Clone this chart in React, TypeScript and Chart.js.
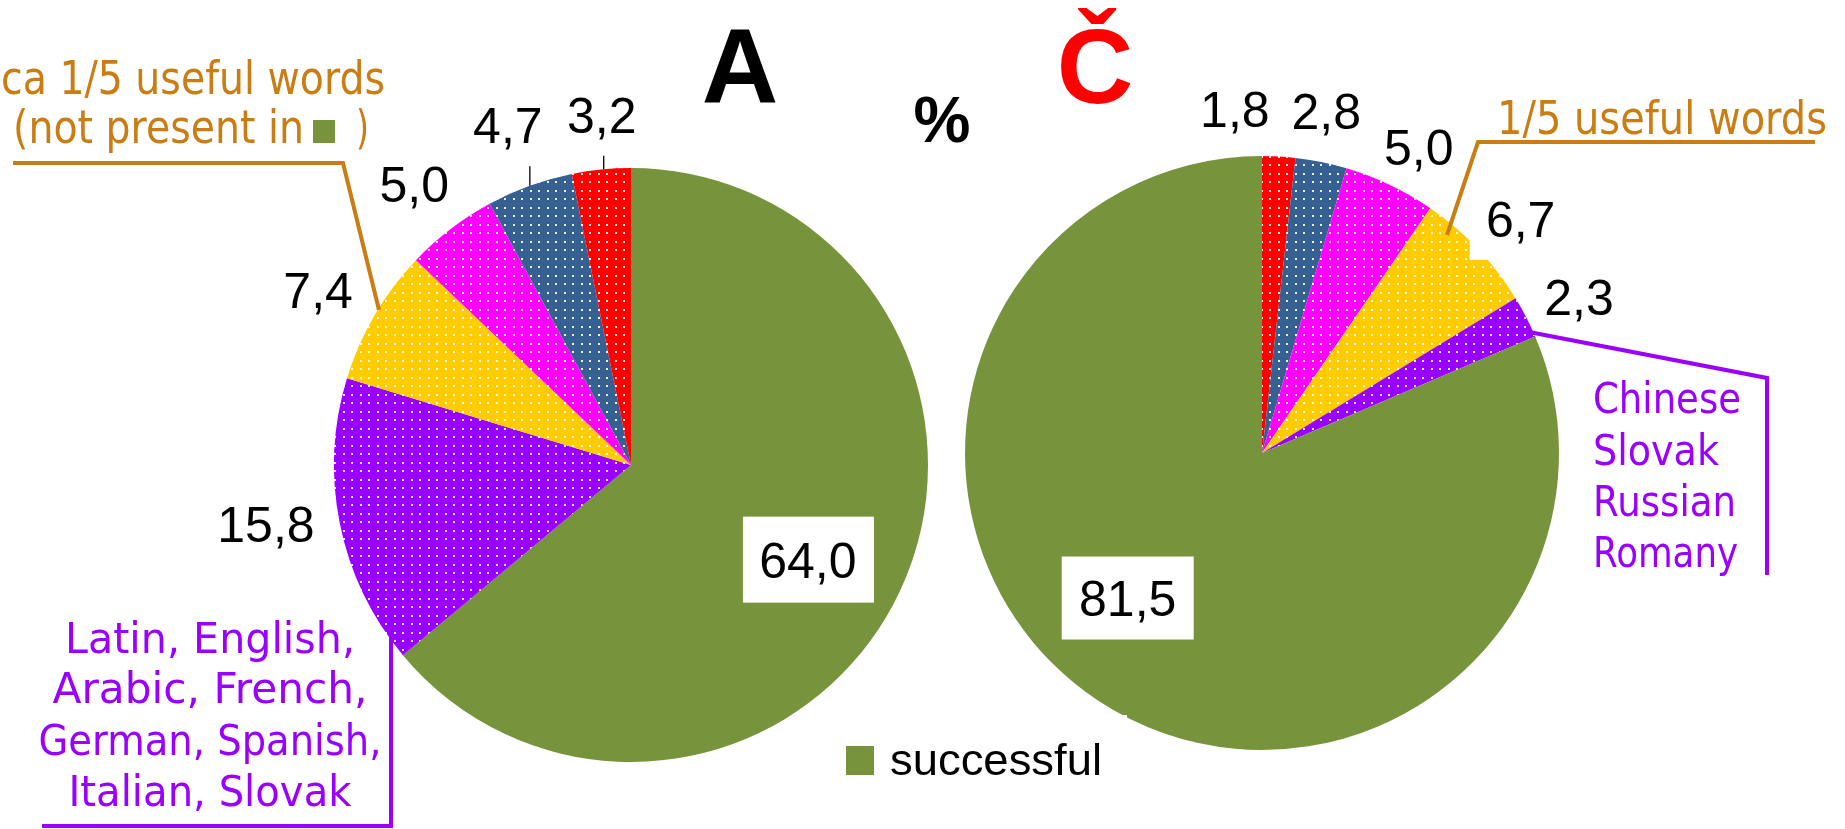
import React, { useEffect, useRef } from 'react';
import { Chart, registerables } from 'chart.js';

Chart.register(...registerables);

const W = 1845;
const H = 829;

// ---------- data ----------
const categoriesA = ['successful', 'other languages', 'useful words', 'group 4', 'group 5', 'group 6'];
const valuesA = [64.0, 15.8, 7.4, 5.0, 4.7, 3.2];
const categoriesC = ['group 6', 'group 5', 'group 4', 'useful words', 'other languages', 'successful'];
const valuesC = [1.8, 2.8, 5.0, 6.7, 2.3, 81.5];

const titleA = 'A';
const titleC = 'Č';
const unitLabel = '%';
const legendLabel = 'successful';
const noteLeftOrange = ['ca 1/5 useful words', '(not present in', ')'];
const noteRightOrange = '1/5 useful words';
const noteLeftPurple = ['Latin, English,', 'Arabic, French,', 'German, Spanish,', 'Italian, Slovak'];
const noteRightPurple = ['Chinese', 'Slovak', 'Russian', 'Romany'];

// ---------- styles ----------
const COLORS: Record<string, string> = {
  'successful': '#77933C',
  'other languages': '#9900FF',
  'useful words': '#FFCC00',
  'group 4': '#FF00FF',
  'group 5': '#376092',
  'group 6': '#FF0000',
};
const ORANGE = '#C97D12';
const PURPLE = '#9900FF';
const NUM_FONT = '50px "Liberation Sans", Arial, sans-serif';
const ORANGE_FONT = '46px "DejaVu Sans", sans-serif';
const PURPLE_FONT = '43px "DejaVu Sans", sans-serif';

function fmt(v: number) {
  return v.toFixed(1).replace('.', ',');
}

function fitText(ctx: CanvasRenderingContext2D, text: string, x: number, y: number, width: number, align: 'left' | 'center') {
  const m = ctx.measureText(text).width;
  const s = width / m;
  ctx.save();
  const x0 = align === 'center' ? x - width / 2 : x;
  ctx.translate(x0, y);
  ctx.scale(s, 1);
  ctx.textAlign = 'left';
  ctx.textBaseline = 'alphabetic';
  ctx.fillText(text, 0, 0);
  ctx.restore();
}

function makeFill(canvas: HTMLCanvasElement, cat: string): string | CanvasPattern {
  const color = COLORS[cat];
  if (cat === 'successful') return color;
  const t = document.createElement('canvas');
  t.width = 17;
  t.height = 17;
  const c = t.getContext('2d')!;
  c.fillStyle = color;
  c.fillRect(0, 0, 17, 17);
  c.fillStyle = 'rgba(255,255,255,0.92)';
  for (const [x, y] of [[3, 3], [11, 3], [3, 11], [11, 11]]) c.fillRect(x, y, 2, 2);
  const p = canvas.getContext('2d')!.createPattern(t, 'repeat');
  return p || color;
}

const sliceLabels = {
  id: 'sliceLabels',
  afterDatasetsDraw(chart: any, _args: any, opts: any) {
    const ctx: CanvasRenderingContext2D = chart.ctx;
    const meta = chart.getDatasetMeta(0);
    const data: number[] = chart.data.datasets[0].data;
    ctx.save();
    meta.data.forEach((arc: any, i: number) => {
      const p = arc.getProps(['x', 'y', 'startAngle', 'endAngle', 'outerRadius'], true);
      const mid = (p.startAngle + p.endAngle) / 2;
      const inside = i === opts.insideIndex;
      const rr = inside ? p.outerRadius * 0.68 : p.outerRadius + 55;
      const nud = opts.nudges[i] || [0, 0];
      const lx = p.x + Math.cos(mid) * rr + nud[0];
      const ly = p.y + Math.sin(mid) * rr + nud[1];
      const box = opts.boxes && opts.boxes[i];
      if (box) {
        ctx.fillStyle = '#FFFFFF';
        ctx.fillRect(lx + box[0], ly + box[1], box[2], box[3]);
      }
      ctx.font = NUM_FONT;
      ctx.fillStyle = '#000000';
      ctx.textAlign = 'center';
      ctx.textBaseline = 'alphabetic';
      ctx.fillText(fmt(data[i]), lx, ly + 18);
      const ld = opts.leaders && opts.leaders[i];
      if (ld !== undefined) {
        const x = lx + ld;
        const dx = x - p.x;
        const ey = p.y - Math.sqrt(Math.max(p.outerRadius * p.outerRadius - dx * dx, 0));
        ctx.strokeStyle = '#000000';
        ctx.lineWidth = 1.3;
        ctx.beginPath();
        ctx.moveTo(x, ly + 41);
        ctx.lineTo(x, ey);
        ctx.stroke();
      }
    });
    ctx.restore();
  },
};

const overlay = {
  id: 'overlay',
  afterDraw(chart: any) {
    const ctx: CanvasRenderingContext2D = chart.ctx;
    ctx.save();
    // titles
    ctx.textAlign = 'center';
    ctx.textBaseline = 'alphabetic';
    ctx.fillStyle = '#000000';
    ctx.font = 'bold 106px "Liberation Sans", Arial, sans-serif';
    ctx.fillText(titleA, 740, 103);
    ctx.fillStyle = '#FF0000';
    ctx.fillText(titleC, 1095, 103);
    ctx.fillStyle = '#000000';
    ctx.font = 'bold 64px "Liberation Sans", Arial, sans-serif';
    ctx.fillText(unitLabel, 942, 142);

    // orange notes
    ctx.font = ORANGE_FONT;
    ctx.fillStyle = ORANGE;
    fitText(ctx, noteLeftOrange[0], 1, 94, 384, 'left');
    fitText(ctx, noteLeftOrange[1], 13, 143, 291, 'left');
    fitText(ctx, noteLeftOrange[2], 356, 143, 13, 'left');
    ctx.fillStyle = COLORS['successful'];
    ctx.fillRect(313, 120, 22, 23);
    ctx.fillStyle = ORANGE;
    fitText(ctx, noteRightOrange, 1497, 134, 330, 'left');
    ctx.strokeStyle = ORANGE;
    ctx.lineWidth = 4;
    ctx.lineJoin = 'miter';
    ctx.beginPath();
    ctx.moveTo(13, 163);
    ctx.lineTo(343, 163);
    ctx.lineTo(379, 310);
    ctx.stroke();
    ctx.beginPath();
    ctx.moveTo(1815, 142);
    ctx.lineTo(1478, 142);
    ctx.lineTo(1447, 235);
    ctx.stroke();

    // purple notes
    ctx.font = PURPLE_FONT;
    ctx.fillStyle = PURPLE;
    const leftW = [290, 315, 343, 283];
    const leftY = [653, 703, 755, 806];
    noteLeftPurple.forEach((t, i) => fitText(ctx, t, 210, leftY[i], leftW[i], 'center'));
    const rightW = [148, 126, 143, 145];
    const rightY = [413, 465, 516, 567];
    noteRightPurple.forEach((t, i) => fitText(ctx, t, 1593, rightY[i], rightW[i], 'left'));
    ctx.strokeStyle = PURPLE;
    ctx.lineWidth = 4;
    ctx.beginPath();
    ctx.moveTo(391, 633);
    ctx.lineTo(391, 826);
    ctx.lineTo(42, 826);
    ctx.stroke();
    ctx.beginPath();
    ctx.moveTo(1529, 332);
    ctx.lineTo(1767, 378);
    ctx.lineTo(1767, 575);
    ctx.stroke();

    // legend
    ctx.fillStyle = '#FFFFFF';
    ctx.fillRect(830, 715, 297, 90);
    ctx.fillStyle = COLORS['successful'];
    ctx.fillRect(846, 746, 28, 29);
    ctx.fillStyle = '#000000';
    ctx.font = '44px "Liberation Sans", Arial, sans-serif';
    fitText(ctx, legendLabel, 890, 775, 212, 'left');
    ctx.restore();
  },
};

export default function App() {
  const refA = useRef<HTMLCanvasElement>(null);
  const refC = useRef<HTMLCanvasElement>(null);

  useEffect(() => {
    const ca = refA.current!;
    const cc = refC.current!;
    const chartA = new Chart(ca, {
      type: 'pie',
      data: {
        labels: categoriesA,
        datasets: [{
          data: valuesA,
          backgroundColor: categoriesA.map((c) => makeFill(ca, c)) as any,
          borderWidth: 0,
          hoverOffset: 0,
        }],
      },
      options: {
        responsive: false,
        animation: false,
        events: [],
        layout: { padding: { left: 334, right: 917, top: 168, bottom: 67 } },
        plugins: {
          legend: { display: false },
          tooltip: { enabled: false },
          sliceLabels: {
            insideIndex: 0,
            nudges: [[-6, 9], [-20, -11], [-9, 3], [-3, -1], [-3, -9], [6, 0]],
            boxes: { 0: [-65, -43, 131, 86] },
            leaders: { 4: 22, 5: 2 },
          },
        } as any,
      },
      plugins: [sliceLabels],
    });
    const chartC = new Chart(cc, {
      type: 'pie',
      data: {
        labels: categoriesC,
        datasets: [{
          data: valuesC,
          backgroundColor: categoriesC.map((c) => makeFill(cc, c)) as any,
          borderWidth: 0,
          hoverOffset: 0,
        }],
      },
      options: {
        responsive: false,
        animation: false,
        events: [],
        layout: { padding: { left: 965, right: 286, top: 156, bottom: 79 } },
        plugins: {
          legend: { display: false },
          tooltip: { enabled: false },
          sliceLabels: {
            insideIndex: 5,
            nudges: [[-47, 7], [-6, 3], [5, 12], [3, 8], [4, 5], [-23, -24]],
            boxes: { 3: [-51, -29, 100, 70], 5: [-66, -41, 132, 83] },
            leaders: {},
          },
        } as any,
      },
      plugins: [sliceLabels, overlay],
    });
    return () => {
      chartA.destroy();
      chartC.destroy();
    };
  }, []);

  return (
    <div style={{ position: 'absolute', left: 0, top: 0, width: W, height: H, background: '#FFFFFF', overflow: 'hidden' }}>
      <canvas ref={refA} width={W} height={H} style={{ position: 'absolute', left: 0, top: 0 }} />
      <canvas ref={refC} width={W} height={H} style={{ position: 'absolute', left: 0, top: 0 }} />
    </div>
  );
}
